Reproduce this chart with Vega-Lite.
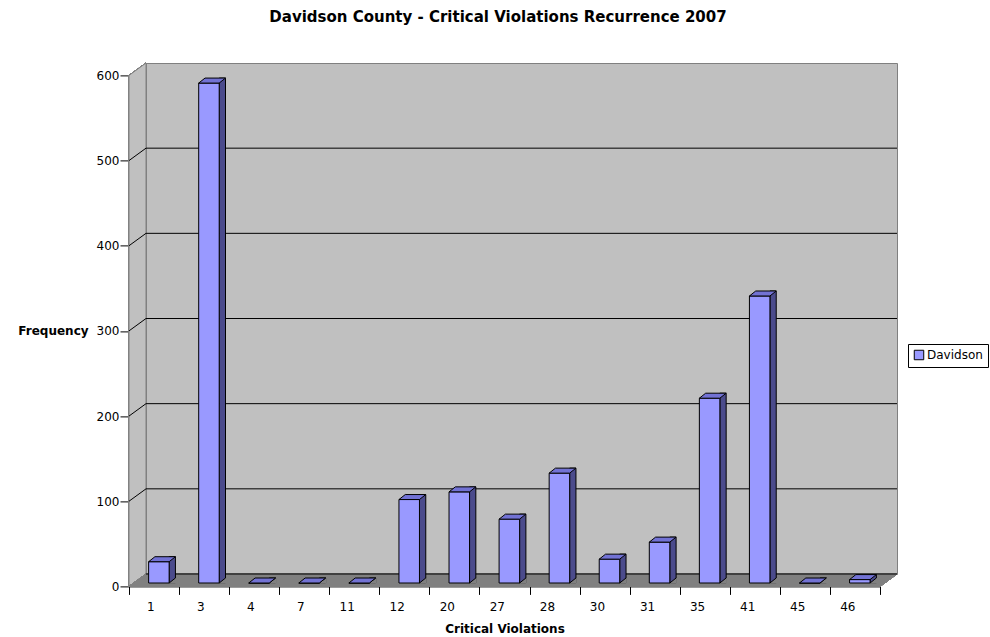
{
  "$schema": "https://vega.github.io/schema/vega-lite/v6.json",
  "width": 751,
  "height": 511,
  "autosize": {"type": "none"},
  "padding": {"left": 146, "top": 63, "right": 93, "bottom": 63},
  "background": "white",
  "title": {
    "text": "Davidson County - Critical Violations Recurrence 2007",
    "font": "DejaVu Sans",
    "fontSize": 15,
    "fontWeight": "bold",
    "color": "black",
    "anchor": "middle",
    "frame": "group",
    "baseline": "alphabetic",
    "offset": 24,
    "dx": -23.5
  },
  "datasets": {
    "violations": [
      {"violation": "1", "freq": 25},
      {"violation": "3", "freq": 587},
      {"violation": "4", "freq": 0},
      {"violation": "7", "freq": 0},
      {"violation": "11", "freq": 0},
      {"violation": "12", "freq": 98},
      {"violation": "20", "freq": 107},
      {"violation": "27", "freq": 75},
      {"violation": "28", "freq": 129},
      {"violation": "30", "freq": 28},
      {"violation": "31", "freq": 48},
      {"violation": "35", "freq": 217},
      {"violation": "41", "freq": 337},
      {"violation": "45", "freq": 0},
      {"violation": "46", "freq": 4}
    ],
    "gridlines": [
      {"v": 0}, {"v": 100}, {"v": 200}, {"v": 300}, {"v": 400}, {"v": 500}
    ]
  },
  "data": {"name": "violations"},
  "layer": [
    {
      "description": "left side wall of the 3-D frame",
      "mark": {"type": "point", "shape": "M0,0 L-17,12.4 L-17,-498.6 L0,-511 Z", "size": 4, "filled": true, "fill": "#C0C0C0", "stroke": "#808080", "strokeWidth": 1, "opacity": 1},
      "encoding": {
        "x": {"datum": "1", "type": "ordinal", "bandPosition": 0},
        "y": {"datum": 0, "type": "quantitative"}
      }
    },
    {
      "description": "floor of the 3-D frame",
      "mark": {"type": "point", "shape": "M0,0 L751,0 L734,12.4 L-17,12.4 Z", "size": 4, "filled": true, "fill": "#808080", "stroke": "#808080", "strokeWidth": 1, "opacity": 1},
      "encoding": {
        "x": {"datum": "1", "type": "ordinal", "bandPosition": 0},
        "y": {"datum": 0, "type": "quantitative"}
      }
    },
    {
      "description": "gridlines on the back wall",
      "data": {"name": "gridlines"},
      "mark": {"type": "rule", "color": "#000000", "strokeWidth": 1},
      "encoding": {
        "y": {"field": "v", "type": "quantitative"}
      }
    },
    {
      "description": "gridlines running across the side wall",
      "data": {"name": "gridlines"},
      "transform": [{"filter": "datum.v > 0"}],
      "mark": {"type": "point", "shape": "M0,0 L-17,12.4", "size": 4, "filled": false, "stroke": "#000000", "strokeWidth": 1, "opacity": 1},
      "encoding": {
        "x": {"datum": "1", "type": "ordinal", "bandPosition": 0},
        "y": {"field": "v", "type": "quantitative"}
      }
    },
    {
      "description": "right-hand side face of each column",
      "mark": {"type": "bar", "width": 6.3, "xOffset": 1.25, "yOffset": 4, "y2Offset": 9, "fill": "#4B4B8C", "stroke": "#000000", "strokeWidth": 1},
      "encoding": {
        "x": {"field": "violation", "type": "ordinal", "sort": null},
        "y": {"field": "freq", "type": "quantitative"},
        "y2": {"datum": 0}
      }
    },
    {
      "description": "floor patch under the slanted base of each side face",
      "mark": {"type": "point", "shape": "M-1.9,9 L4.4,4 L5.2,4 L5.2,9.8 L-1.9,9.8 Z", "size": 4, "filled": true, "fill": "#808080", "strokeWidth": 0, "opacity": 1},
      "encoding": {
        "x": {"field": "violation", "type": "ordinal", "sort": null},
        "y": {"datum": 0, "type": "quantitative"}
      }
    },
    {
      "description": "slanted base edge of each side face",
      "mark": {"type": "point", "shape": "M-1.9,9 L4.4,4", "size": 4, "filled": false, "stroke": "#000000", "strokeWidth": 1, "opacity": 1},
      "encoding": {
        "x": {"field": "violation", "type": "ordinal", "sort": null},
        "y": {"datum": 0, "type": "quantitative"}
      }
    },
    {
      "description": "front face of each column",
      "mark": {"type": "bar", "width": 20.5, "xOffset": -12.15, "yOffset": 9, "y2Offset": 9, "stroke": "#000000", "strokeWidth": 1, "opacity": 1},
      "encoding": {
        "x": {
          "field": "violation",
          "type": "ordinal",
          "sort": null,
          "scale": {"type": "band", "paddingInner": 0, "paddingOuter": 0},
          "axis": {
            "title": "Critical Violations",
            "orient": "bottom",
            "offset": 12.4,
            "position": -17,
            "tickBand": "extent",
            "tickSize": 8,
            "tickColor": "#000000",
            "domainColor": "#000000",
            "labelAngle": 0,
            "labelPadding": 12,
            "labelFont": "DejaVu Sans",
            "labelFontSize": 12,
            "labelColor": "#000000",
            "titleFont": "DejaVu Sans",
            "titleFontSize": 12,
            "titleFontWeight": "bold",
            "titleColor": "#000000",
            "titlePadding": 11,
            "grid": false
          }
        },
        "y": {
          "field": "freq",
          "type": "quantitative",
          "scale": {"domain": [0, 600], "nice": false, "zero": true},
          "axis": {
            "title": "Frequency",
            "orient": "left",
            "offset": 17,
            "position": 12.4,
            "values": [0, 100, 200, 300, 400, 500, 600],
            "tickSize": 9,
            "tickColor": "#000000",
            "domainColor": "#000000",
            "labelPadding": 1,
            "labelFont": "DejaVu Sans",
            "labelFontSize": 12,
            "labelColor": "#000000",
            "grid": false,
            "titleAngle": 0,
            "titleAlign": "right",
            "titleBaseline": "middle",
            "titlePadding": 8,
            "titleFont": "DejaVu Sans",
            "titleFontSize": 12,
            "titleFontWeight": "bold",
            "titleColor": "#000000"
          }
        },
        "y2": {"datum": 0},
        "color": {
          "datum": "Davidson",
          "type": "nominal",
          "scale": {"range": ["#9999FF"]},
          "legend": {
            "title": null,
            "orient": "none",
            "legendX": 762,
            "legendY": 281,
            "strokeColor": "#000000",
            "fillColor": "#FFFFFF",
            "padding": 5,
            "symbolType": "square",
            "symbolSize": 90,
            "symbolStrokeColor": "#000000",
            "symbolStrokeWidth": 1,
            "symbolOpacity": 1,
            "labelFont": "DejaVu Sans",
            "labelFontSize": 12,
            "labelColor": "#000000",
            "labelOffset": 2
          }
        }
      }
    },
    {
      "description": "top face of each column",
      "mark": {"type": "point", "shape": "M-22.4,9 L-1.9,9 L4.4,4 L-16.1,4 Z", "size": 4, "filled": true, "fill": "#7272D4", "stroke": "#000000", "strokeWidth": 1, "opacity": 1},
      "encoding": {
        "x": {"field": "violation", "type": "ordinal", "sort": null},
        "y": {"field": "freq", "type": "quantitative"}
      }
    }
  ],
  "config": {
    "font": "DejaVu Sans",
    "view": {"fill": "#C0C0C0", "stroke": "#808080", "strokeWidth": 1}
  }
}
